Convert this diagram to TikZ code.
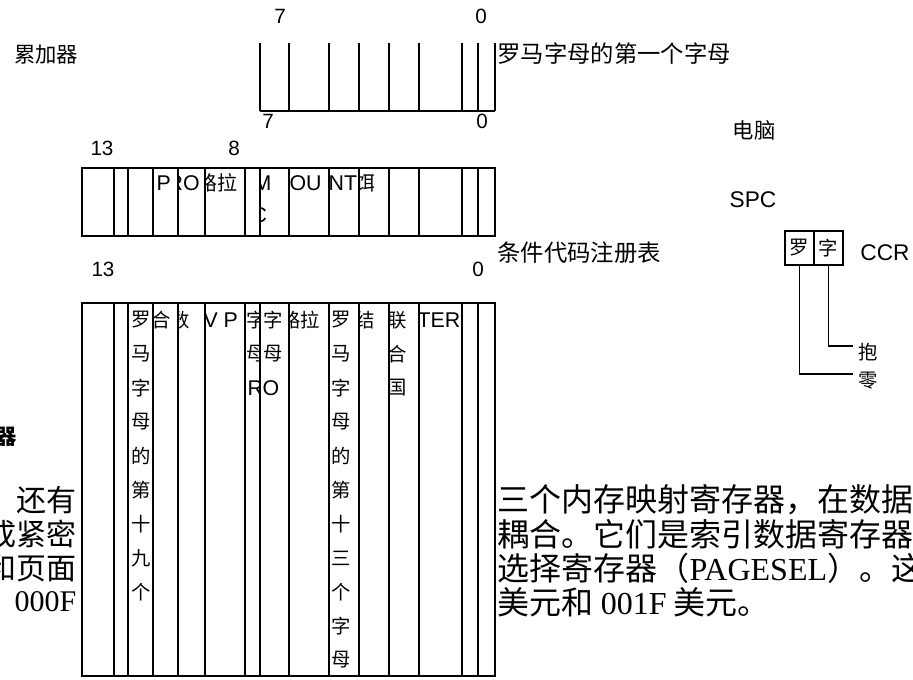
\documentclass[tikz,border=0pt]{standalone}
\usepackage{fontspec}
\setmainfont{Liberation Sans}
\newfontfamily\cjk{Noto Sans CJK SC}
\newfontfamily\tms{Liberation Serif}
\usetikzlibrary{positioning}
\def\pxu{0.75pt}

\begin{document}
\begin{tikzpicture}[x=0.75pt, y=-0.75pt, line width=0.9pt,
  every node/.style={inner sep=0pt},
  num/.style={font=\fontsize{15.5}{18}\selectfont},
  tag/.style={font=\fontsize{17}{20}\selectfont},
  cjklab/.style={font=\cjk\fontsize{16}{19}\selectfont},
  cjknote/.style={anchor=west, font=\cjk\fontsize{17.5}{20}\selectfont},
  midtxt/.style={anchor=west, font=\fontsize{16}{19}\selectfont},
  midcjk/.style={anchor=west, font=\cjk\fontsize{15}{18}\selectfont},
  lowtxt/.style={anchor=west, font=\cjk\fontsize{14.5}{17}\selectfont},
  para/.style={font=\cjk\fontsize{24}{28}\selectfont},
  ccrcell/.style={draw, minimum width={29*\pxu}, minimum height={34*\pxu},
    font=\cjk\fontsize{14.5}{17}\selectfont}]
\useasboundingbox (0,0) rectangle (913,679);

% ================= accumulator =================
\foreach \x in {260,289,329,359,389,419,462,478,495}
  \draw (\x,43) -- (\x,111);
\draw (260,111) -- (495,111);
\node[num] (accHi) at (280,16) {7};
\node[num] (accLo) at (481,16) {0};
\node[num] (accHiB) at (268,121) {7};
\node[num] (accLoB) at (482,121) {0};
\node[cjklab] (accName) at (46,55) {累加器};
\node[cjknote] (accNote) at (497,54) {罗马字母的第一个字母};

% ================= condition code register =================
\draw (82,168) rectangle (495,236);
\foreach \x in {114,128,153,178,205,245,260,289,329,359,389,419,462,478}
  \draw (\x,168) -- (\x,236);
\node[num] (ccHi) at (102,148) {13};
\node[num] (ccMid) at (234,148) {8};
\node[cjknote] (ccName) at (497,253) {条件代码注册表};

% ---------- cell texts (clipped by their cells) ----------
\node[midtxt] (ccP) at (156,183) {P};
\begin{scope}
  \clip (178,0) rectangle (205,679);
  \node[midtxt] (ccRO) at (167,183) {RO};
\end{scope}
\begin{scope}
  \clip (205,0) rectangle (245,679);
  \node[midcjk] (ccLu) at (197,183) {路拉};
\end{scope}
\begin{scope}
  \clip (260,0) rectangle (289,679);
  \node[midtxt] (ccM) at (253,183) {M};
  \node[midtxt] (ccC) at (251,215) {C};
\end{scope}
\node[midtxt] (ccOU) at (289,183) {OU};
\begin{scope}
  \clip (329,0) rectangle (359,679);
  \node[midtxt] (ccNT) at (328,183) {NT};
\end{scope}
\begin{scope}
  \clip (359,0) rectangle (389,679);
  \node[midcjk] (ccEr) at (355,183) {饵};
\end{scope}

% ================= lower register =================
\draw (82,303) rectangle (495,676);
\foreach \x in {114,128,153,178,205,245,260,289,329,359,389,419,462,478}
  \draw (\x,303) -- (\x,676);
\node[num] (loHi) at (103,269) {13};
\node[num] (loLo) at (478,269) {0};

\begin{scope}
  \clip (128,0) rectangle (153,679);
  \foreach \c [count=\i from 0] in {罗,马,字,母,的,第,十,九,个}
    \node[lowtxt] (colA-\i) at (131,{320+34*\i}) {\c};
\end{scope}
\begin{scope}
  \clip (153,0) rectangle (178,679);
  \node[lowtxt] (loHe) at (151,320) {合};
\end{scope}
\begin{scope}
  \clip (178,0) rectangle (205,679);
  \node[lowtxt] (loShu) at (170,320) {数};
\end{scope}
\begin{scope}
  \clip (205,0) rectangle (245,679);
  \node[midtxt] (loVP) at (203,320) {V P};
\end{scope}
\begin{scope}
  \clip (245,0) rectangle (260,679);
  \node[lowtxt] (loZiA) at (246,320) {字};
  \node[lowtxt] (loMuA) at (246,354) {母};
  \node[midtxt] (loR) at (247,388) {R};
\end{scope}
\begin{scope}
  \clip (260,0) rectangle (289,679);
  \node[lowtxt] (loZiB) at (263,320) {字};
  \node[lowtxt] (loMuB) at (263,354) {母};
  \node[midtxt] (loO) at (262,388) {O};
\end{scope}
\begin{scope}
  \clip (289,0) rectangle (329,679);
  \node[lowtxt] (loLu) at (281,320) {路拉};
\end{scope}
\begin{scope}
  \clip (329,0) rectangle (359,679);
  \foreach \c [count=\i from 0] in {罗,马,字,母,的,第,十,三,个,字,母}
    \node[lowtxt] (colB-\i) at (331,{320+34*\i}) {\c};
\end{scope}
\begin{scope}
  \clip (359,0) rectangle (389,679);
  \node[lowtxt] (loJie) at (355,320) {结};
\end{scope}
\begin{scope}
  \clip (389,0) rectangle (419,679);
  \foreach \c [count=\i from 0] in {联,合,国}
    \node[lowtxt] (colC-\i) at (387,{320+34*\i}) {\c};
\end{scope}
\begin{scope}
  \clip (419,0) rectangle (462,679);
  \node[midtxt] (loTER) at (417,320) {TER};
\end{scope}

% ================= CPU side =================
\node[cjklab] (cpu) at (754,130) {电脑};
\node[tag] (spc) at (753,200) {SPC};
\node[ccrcell] (ccrL) at (799.5,248) {罗};
\node[ccrcell] (ccrR) at (828.5,248) {字};
\node[tag] (ccr) at (885,253) {CCR};
\coordinate (baoEnd) at (853,346);
\coordinate (lingEnd) at (853,374);
\draw (ccrR.south) |- (baoEnd);
\draw (ccrL.south) |- (lingEnd);
\node[lowtxt] (bao) at (858,352) {抱};
\node[lowtxt] (ling) at (858,381) {零};

% ================= running text =================
\node[cjklab, anchor=east, font=\cjk\bfseries\fontsize{16}{19}\selectfont] (qi) at (17,437) {器};
\node[para, anchor=east, font=\cjk\fontsize{22.5}{28}\selectfont] (lt1) at (77,500) {还有};
\node[para, anchor=east, font=\cjk\fontsize{22.5}{28}\selectfont] (lt2) at (77,534) {成紧密};
\node[para, anchor=east, font=\cjk\fontsize{22.5}{28}\selectfont] (lt3) at (77,568) {和页面};
\node[para, anchor=east, font=\tms\fontsize{22.5}{28}\selectfont] (lt4) at (77,602) {000F};
\node[para, anchor=west] (rt1) at (497,500) {三个内存映射寄存器，在数据};
\node[para, anchor=west] (rt2) at (497,534) {耦合。它们是索引数据寄存器};
\node[para, anchor=west] (rt3) at (497,568) {选择寄存器（{\tms PAGESEL}）。这};
\node[para, anchor=west] (rt4) at (497,602) {美元和 {\tms 001F} 美元。};
\end{tikzpicture}
\end{document}
